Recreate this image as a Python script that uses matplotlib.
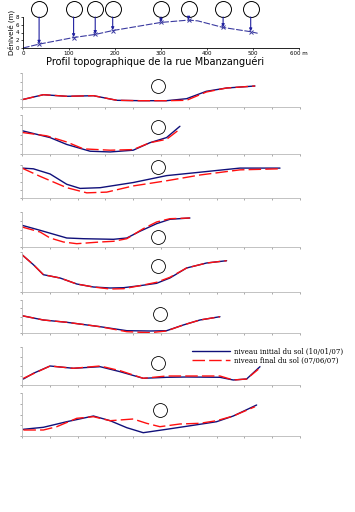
import matplotlib
matplotlib.use("Agg")
import matplotlib.pyplot as plt

# ---------------- data ----------------
# top profile (distance m, elevation m)
prof_x = [0, 35, 110, 157, 195, 300, 360, 380, 435, 495, 510]
prof_y = [0, 1.0, 2.7, 3.5, 4.5, 6.6, 7.2, 7.0, 5.3, 4.2, 3.8]
# section locations (m) and their elevation on the profile
sect_x = [35, 110, 157, 195, 300, 360, 435, 495]
sect_y = [1.0, 2.7, 3.5, 4.5, 6.6, 7.2, 5.3, 4.2]
top_xticks = [0, 100, 200, 300, 400, 500, 600]
top_xlabels = ["0", "100", "200", "300", "400", "500", "600 m"]
top_yticks = [0, 2, 4, 6, 8]

# cross sections: x (arbitrary units 0-10), initial (blue) and final (red) ground level
s1_xb = [0, 0.77, 1.61, 2.57, 3.41, 4.24, 5.20, 5.92, 6.63, 7.36, 8.38]
s1_yb = [7.3, 12.3, 10.7, 11.3, 6.7, 6.3, 6.3, 8.3, 15.7, 19, 21]
s1_xr = [0, 0.77, 1.61, 2.57, 3.41, 4.24, 5.20, 5.92, 6.63, 7.36, 8.38]
s1_yr = [7.3, 12.3, 10.7, 11.3, 6.7, 6.3, 6.3, 6.7, 15.0, 19, 21]

s2_xb = [0, 1.01, 1.61, 2.45, 3.17, 4.0, 4.6, 5.2, 5.68]
s2_yb = [22.7, 16, 9.3, 2.7, 2, 3.7, 11, 16, 27]
s2_xr = [0, 0.89, 1.61, 2.21, 3.17, 4.0, 4.6, 5.2, 5.68]
s2_yr = [21, 17.7, 11.7, 5, 3.7, 4.3, 11, 14.3, 24.3]

s3_xb = [0, 0.41, 1.01, 1.61, 2.09, 2.81, 4.0, 5.2, 6.4, 7.84, 9.28]
s3_yb = [29, 28.3, 23.3, 13.3, 9.3, 10, 15, 21.7, 25, 29, 29]
s3_xr = [0, 0.65, 1.61, 2.33, 3.05, 4.0, 5.2, 6.4, 7.84, 9.28]
s3_yr = [29, 21, 10, 5, 5.7, 11.7, 16.7, 22.3, 27.3, 28.3]

s4_xb = [0, 0.65, 1.61, 2.21, 3.29, 3.77, 4.24, 4.84, 5.32, 6.04]
s4_yb = [21.7, 16.7, 9, 8.3, 7.7, 9, 15.7, 23.3, 27.7, 29]
s4_xr = [0, 0.65, 1.01, 1.49, 1.97, 2.81, 3.29, 3.77, 4.36, 4.84, 5.32, 6.04]
s4_yr = [20, 15, 9, 5, 3.3, 5, 5.7, 8.3, 18.3, 25, 28.3, 29]

s5_xb = [0, 0.41, 0.77, 1.37, 1.97, 2.57, 3.17, 3.65, 4.24, 4.84, 5.32, 5.92, 6.64, 7.36]
s5_yb = [37.3, 27.3, 17.3, 14, 8, 5, 4, 4.3, 6.3, 8.7, 14, 24, 29, 31.3]
s5_xr = [0, 0.41, 0.77, 1.37, 1.97, 2.57, 3.17, 3.65, 4.24, 4.84, 5.32, 5.92, 6.64, 7.36]
s5_yr = [37.3, 27.3, 17.3, 14, 8, 5, 3, 3.3, 6.3, 9.7, 14.7, 24, 29, 31.3]

s6_xb = [0, 0.77, 1.61, 2.81, 3.77, 4.6, 5.2, 5.8, 6.4, 7.12]
s6_yb = [17.3, 13, 10.7, 6.3, 2.3, 2, 2.3, 8, 13, 16.3]
s6_xr = [0, 0.77, 1.61, 2.81, 3.77, 4.6, 5.2, 5.8, 6.4, 7.12]
s6_yr = [17.3, 13, 10.7, 6.3, 1.3, 0.3, 2, 8, 13, 16.3]

s7_xb = [0.05, 0.41, 1.01, 1.85, 2.81, 3.53, 4.36, 5.2, 5.92, 7.12, 7.6, 8.08, 8.56]
s7_yb = [6, 11.7, 19, 16.7, 18.3, 13.3, 6.7, 7.7, 8, 7.7, 5, 6, 18.3]
s7_xr = [0.05, 1.01, 1.85, 2.81, 3.53, 4.36, 5.2, 5.92, 7.12, 7.6, 8.08, 8.5]
s7_yr = [6.7, 19, 16.7, 19, 14.3, 6.7, 9, 9, 9, 5, 6, 15.7]

s8_xb = [0.05, 0.77, 1.61, 2.57, 3.17, 3.77, 4.36, 5.2, 6.16, 7.0, 7.6, 8.44]
s8_yb = [6.7, 8.7, 14.3, 20, 15.3, 8.3, 3.3, 6.7, 10.7, 14.3, 20, 31]
s8_xr = [0.05, 0.77, 1.25, 1.97, 2.57, 3.17, 4.0, 4.48, 4.96, 5.68, 6.4, 7.0, 7.6, 8.38]
s8_yr = [6, 6, 9.3, 17.7, 19.3, 15.3, 17, 12.7, 9.3, 12, 12.7, 15.3, 20, 29.3]

# marker circle position in each section (x, y)
circ_x = [4.9, 4.9, 4.9, 4.9, 4.9, 4.95, 4.9, 4.95]
circ_y = [21.3, 26, 30, 10, 25.7, 18.7, 21.7, 26]
ymax = [34, 38, 32, 35, 40, 33, 38, 43]

legend_labels = ["niveau initial du sol (10/01/07)", "niveau final du sol (07/06/07)"]

# ---------------- figure ----------------
W, H = 355, 512
fig = plt.figure(figsize=(W / 100, H / 100), dpi=100)
fig.patch.set_facecolor("white")

def rect(l, t, r, b):
    return [l / W, 1 - b / H, (r - l) / W, (b - t) / H]

BLUE = "#10107a"
RED = "#ff1010"
GREY = "#b8b8b8"

# top profile
ax0 = fig.add_axes(rect(23, 17, 299, 48))
ax0.plot(prof_x, prof_y, color="#3a3aa0", lw=0.8, ls=(0, (6, 1.5)))
ax0.plot(sect_x, sect_y, ls="none", marker="x", ms=3, mew=0.7, color="#3a3aa0")
ax0.set_xlim(0, 600)
ax0.set_ylim(0, 8)
for sx, sy in zip(sect_x, sect_y):
    ax0.plot([sx], [10.06], marker="o", ms=11.5, mfc="none", mec="black",
             mew=0.7, clip_on=False)
    ax0.annotate("", xy=(sx, sy + 0.1), xytext=(sx, 8.0),
                 arrowprops=dict(arrowstyle="-|>", color="#2020a0", lw=0.8,
                                 mutation_scale=4, shrinkA=0, shrinkB=0),
                 annotation_clip=False)
ax0.set_xticks(top_xticks)
ax0.set_xticklabels(top_xlabels, fontsize=4)
ax0.set_yticks(top_yticks)
ax0.set_yticklabels([str(v) for v in top_yticks], fontsize=4)
ax0.tick_params(length=1.5, width=0.5, pad=1)
for s in ["top", "right"]:
    ax0.spines[s].set_visible(False)
for s in ["left", "bottom"]:
    ax0.spines[s].set_linewidth(0.6)
ax0.set_ylabel("Dénivelé (m)", fontsize=5, labelpad=1)
fig.text(155 / W, 1 - 62 / H, "Profil topographique de la rue Mbanzanguéri",
         ha="center", va="center", fontsize=7)

# section panels (top px, bottom px)
panels = [(73, 107), (115, 154), (165, 198), (212, 247),
          (252, 292), (300, 333), (347, 385), (393, 436)]
xb_all = [s1_xb, s2_xb, s3_xb, s4_xb, s5_xb, s6_xb, s7_xb, s8_xb]
yb_all = [s1_yb, s2_yb, s3_yb, s4_yb, s5_yb, s6_yb, s7_yb, s8_yb]
xr_all = [s1_xr, s2_xr, s3_xr, s4_xr, s5_xr, s6_xr, s7_xr, s8_xr]
yr_all = [s1_yr, s2_yr, s3_yr, s4_yr, s5_yr, s6_yr, s7_yr, s8_yr]

axes = []
for i, (t, b) in enumerate(panels):
    ax = fig.add_axes(rect(22, t, 300, b))
    lb, = ax.plot(xb_all[i], yb_all[i], color=BLUE, lw=1.0, solid_capstyle="round")
    lr, = ax.plot(xr_all[i], yr_all[i], color=RED, lw=1.0, ls=(0, (9, 3)))
    ax.plot([circ_x[i]], [circ_y[i]], marker="o", ms=10, mfc="none",
            mec="black", mew=0.6, clip_on=False)
    ax.set_xlim(0, 10)
    ax.set_ylim(0, ymax[i])
    ax.set_xticks(range(11))
    ax.set_yticks([ymax[i] * k / 4 for k in range(5)])
    ax.set_xticklabels([])
    ax.set_yticklabels([])
    ax.tick_params(length=1.5, width=0.5, color="#888888")
    for s in ["top", "right"]:
        ax.spines[s].set_visible(False)
    for s in ["left", "bottom"]:
        ax.spines[s].set_color(GREY)
        ax.spines[s].set_linewidth(0.6)
    axes.append((ax, lb, lr))

ax7, lb7, lr7 = axes[6]
leg = ax7.legend([lb7, lr7], legend_labels, loc="center left",
                 bbox_to_anchor=(192 / W, 1 - 356 / H),
                 bbox_transform=fig.transFigure, frameon=False,
                 handlelength=5.5, handletextpad=0.6, labelspacing=0.15,
                 borderpad=0, borderaxespad=0,
                 prop={"family": "DejaVu Serif", "size": 5})

fig.savefig("out.png", dpi=100, facecolor="white")
